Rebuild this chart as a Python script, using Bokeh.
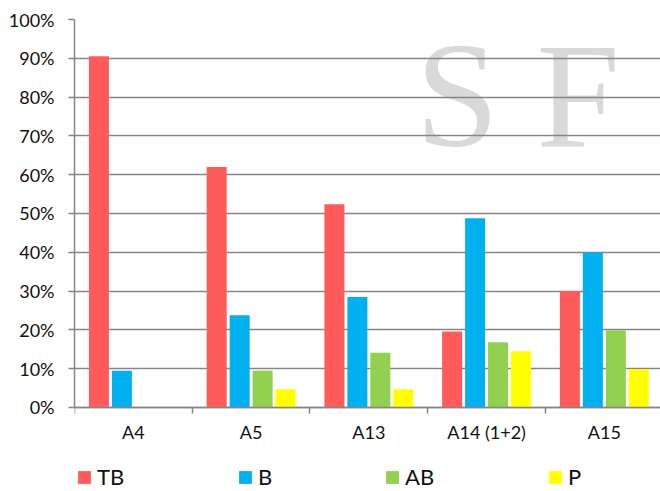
from bokeh.plotting import figure
from bokeh.models import (Range1d, FixedTicker, NumeralTickFormatter, Legend,
                          LegendItem, Label, ColumnDataSource)
from bokeh.transform import dodge
from bokeh.embed import file_html
from bokeh.resources import INLINE

categories = ["A4", "A5", "A13", "A14 (1+2)", "A15"]
series = ["TB", "B", "AB", "P"]
tb = [0.905, 0.62, 0.524, 0.196, 0.30]
b = [0.095, 0.238, 0.285, 0.488, 0.40]
ab = [0.0, 0.095, 0.141, 0.168, 0.199]
p_vals = [0.0, 0.047, 0.047, 0.145, 0.099]
colors = ["#FF5B5B", "#00B0F0", "#92D050", "#FFFF00"]
y_ticks = [0.0, 0.1, 0.2, 0.3, 0.4, 0.5, 0.6, 0.7, 0.8, 0.9, 1.0]

FONT = "Lato"
GRID = "#868686"

centers = [i + 0.5 for i in range(len(categories))]
bounds = [float(i) for i in range(len(categories) + 1)]
src = ColumnDataSource(dict(x=centers, TB=tb, B=b, AB=ab, P=p_vals))

# plot frame extends below 0% so the category labels and legend sit inside it
p = figure(width=660, height=491, output_backend="svg", toolbar_location=None,
           x_range=Range1d(0, 4.977), y_range=Range1d(-0.2165, 1.0),
           min_border_left=74, min_border_right=0, min_border_top=19,
           min_border_bottom=0)
p.outline_line_color = None
p.background_fill_color = "white"

# watermark
for ch, xs in (("S", 341), ("F", 462)):
    p.add_layout(Label(x=xs, y=314, x_units="screen", y_units="screen", text=ch,
                       text_font="Liberation Serif", text_font_size="150px",
                       text_baseline="bottom", text_color="#d9d9d9", level="image"))

offsets = [-0.2925, -0.0975, 0.0975, 0.2925]
renderers = []
for s, off, c in zip(series, offsets, colors):
    r = p.vbar(x=dodge("x", off, range=p.x_range), top=s, width=0.17, bottom=0,
               source=src, fill_color=c, line_color=None)
    renderers.append(r)

# y axis
p.yaxis.ticker = FixedTicker(ticks=y_ticks)
p.yaxis.bounds = (0, 1)
p.yaxis.formatter = NumeralTickFormatter(format="0%")
p.yaxis.major_tick_in = 0
p.yaxis.major_tick_out = 6
p.yaxis.minor_tick_line_color = None
p.yaxis.axis_line_color = GRID
p.yaxis.axis_line_width = 1.5
p.yaxis.major_tick_line_color = GRID
p.yaxis.major_tick_line_width = 1.5
p.yaxis.major_label_text_font = FONT
p.yaxis.major_label_text_font_size = "18px"
p.yaxis.major_label_text_color = "#111111"
p.yaxis.major_label_standoff = 14

# x axis at 0%
p.xaxis.fixed_location = 0
p.xaxis.ticker = FixedTicker(ticks=centers, minor_ticks=bounds)
p.xaxis.major_label_overrides = {c: lab for c, lab in zip(centers, categories)}
p.xaxis.major_tick_in = 0
p.xaxis.major_tick_out = 6
p.xaxis.major_tick_line_color = None
p.xaxis.minor_tick_in = 0
p.xaxis.minor_tick_out = 6
p.xaxis.minor_tick_line_color = GRID
p.xaxis.minor_tick_line_width = 1.5
p.xaxis.axis_line_color = GRID
p.xaxis.axis_line_width = 1.5
p.xaxis.major_label_text_font = FONT
p.xaxis.major_label_text_font_size = "18px"
p.xaxis.major_label_text_color = "#111111"
p.xaxis.major_label_standoff = 8

p.xgrid.grid_line_color = None
p.ygrid.ticker = FixedTicker(ticks=y_ticks)
p.ygrid.grid_line_color = GRID
p.ygrid.grid_line_width = 1.5

legend_x = [2, 163, 310, 473]
for s, r, lx in zip(series, renderers, legend_x):
    leg = Legend(items=[LegendItem(label=s, renderers=[r])], location=(lx, 1),
                 orientation="horizontal", padding=0, margin=0, spacing=0,
                 glyph_width=16, glyph_height=16, label_standoff=5,
                 label_text_font=FONT, label_text_font_size="22px",
                 label_text_color="#111111", label_height=16,
                 border_line_alpha=0, background_fill_alpha=0)
    p.add_layout(leg)

open("out.html", "w").write(file_html(p, INLINE))
